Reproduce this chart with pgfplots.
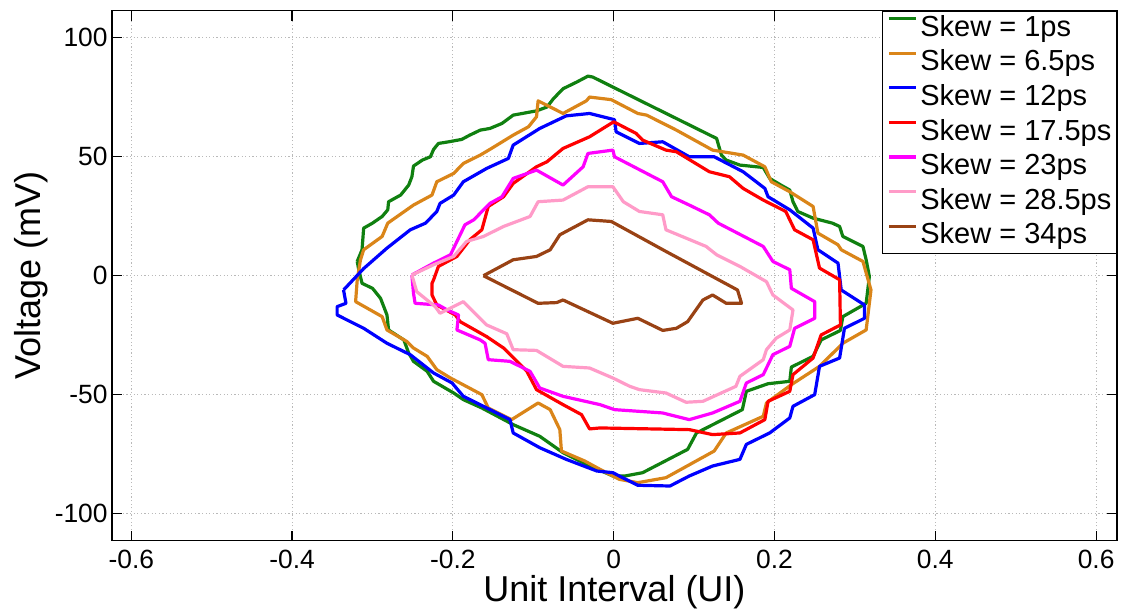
\documentclass[border=0pt]{standalone}
\usepackage{fontspec}
\setmainfont{Liberation Sans}
\usepackage{pgfplots}
\pgfplotsset{compat=1.18}

\definecolor{skewA}{RGB}{16,128,16}
\definecolor{skewB}{RGB}{218,133,25}
\definecolor{skewC}{RGB}{0,0,255}
\definecolor{skewD}{RGB}{255,0,0}
\definecolor{skewE}{RGB}{255,0,255}
\definecolor{skewF}{RGB}{255,155,200}
\definecolor{skewG}{RGB}{153,66,20}

\begin{document}
\begin{tikzpicture}
\begin{axis}[
  scale only axis,
  width=502.5pt, height=265pt,
  xmin=-0.624, xmax=0.626,
  ymin=-111.4, ymax=111.4,
  xtick={-0.6,-0.4,-0.2,0,0.2,0.4,0.6},
  xticklabels={-0.6,-0.4,-0.2,0,0.2,0.4,0.6},
  ytick={-100,-50,0,50,100},
  yticklabels={-100,-50,0,50,100},
  tick align=inside,
  major tick length=5pt,
  tick style={black, line width=0.6pt},
  axis line style={black, line width=0.6pt},
  grid=major,
  grid style={dash pattern=on 0.6pt off 1.2pt, color=gray!55, line width=0.5pt},
  tick label style={font=\fontsize{13.2}{15}\selectfont},
  xticklabel style={inner ysep=0.5pt, yshift=-4pt},
  yticklabel style={inner xsep=2pt},
  xlabel={Unit Interval (UI)},
  ylabel={Voltage (mV)},
  label style={font=\fontsize{18}{20}\selectfont},
  xlabel style={at={(rel axis cs:0.5,-0.0965)}, anchor=center, inner sep=0.5pt},
  ylabel style={at={(rel axis cs:-0.0806,0.5)}, anchor=center},
  every axis plot/.append style={line width=1.6pt, line join=round, no markers},
  legend cell align=left,
  legend image code/.code={\draw[#1] (0pt,5pt) -- (13.5pt,5pt);},
  legend style={at={(1,1)}, anchor=north east, draw=black, line width=0.6pt,
    fill=white, font=\fontsize{14.5}{16}\selectfont,
    inner xsep=2.5pt, inner ysep=1.5pt, row sep=3pt, column sep=1.5pt,
    nodes={inner sep=0pt, text height=11pt, text depth=3.3pt}},
]
\coordinate (bl) at (rel axis cs:0,0);
\coordinate (tr) at (rel axis cs:1,1);

% Skew = 1ps
\addplot[skewA] coordinates {
(-0.319,6.0) (-0.313,10.9) (-0.311,20.0) (-0.300,22.1) (-0.288,24.9) (-0.281,27.7)
(-0.280,31.1) (-0.265,33.9) (-0.255,38.1) (-0.251,41.6) (-0.249,46.1) (-0.238,48.6)
(-0.228,50.0) (-0.224,53.1) (-0.218,55.6) (-0.205,56.3) (-0.189,57.3) (-0.179,59.1)
(-0.166,61.2) (-0.154,61.9) (-0.139,64.0) (-0.125,67.5) (-0.096,69.3) (-0.083,70.9)
(-0.075,74.4) (-0.063,78.6) (-0.046,81.4) (-0.032,83.9) (-0.026,83.5) (-0.001,79.3)
(0.128,57.7) (0.134,50.7) (0.140,48.6) (0.157,46.5) (0.186,45.5) (0.194,40.9)
(0.208,38.1) (0.219,36.0) (0.223,31.1) (0.229,27.0) (0.248,24.2) (0.272,22.1)
(0.281,20.7) (0.285,16.5) (0.310,12.3) (0.314,6.7) (0.318,-0.3) (0.314,-11.6)
(0.285,-17.2) (0.282,-23.0) (0.258,-27.0) (0.248,-33.9) (0.221,-38.4) (0.219,-44.4)
(0.192,-45.4) (0.165,-48.6) (0.160,-56.3) (0.103,-66.1) (0.092,-73.0) (0.036,-82.8)
(0.014,-84.2) (-0.001,-84.2) (-0.034,-79.3) (-0.063,-74.4) (-0.092,-67.5) (-0.125,-62.6)
(-0.164,-55.6) (-0.187,-52.1) (-0.199,-49.3) (-0.224,-44.4) (-0.232,-40.2) (-0.249,-36.0)
(-0.255,-32.5) (-0.261,-27.0) (-0.280,-22.8) (-0.282,-16.5) (-0.290,-9.5) (-0.300,-5.3)
(-0.313,-3.2) (-0.317,2.4) (-0.319,6.0)
};
\addlegendentry{Skew = 1ps}

% Skew = 6.5ps
\addplot[skewB] coordinates {
(-0.315,6.6) (-0.311,10.9) (-0.288,16.5) (-0.281,22.1) (-0.249,29.7) (-0.226,33.9)
(-0.220,39.5) (-0.199,43.0) (-0.187,47.2) (-0.166,50.7) (-0.152,53.5) (-0.125,59.1)
(-0.106,62.6) (-0.096,66.8) (-0.094,73.5) (-0.063,68.2) (-0.034,73.5) (-0.030,75.1)
(-0.003,74.0) (0.030,68.2) (0.041,67.5) (0.078,61.2) (0.123,52.8) (0.161,50.7)
(0.188,45.8) (0.196,39.5) (0.219,35.3) (0.248,29.1) (0.254,17.9) (0.279,13.0)
(0.283,10.9) (0.310,6.0) (0.320,-6.0) (0.314,-22.8) (0.285,-28.4) (0.256,-38.1)
(0.221,-45.8) (0.190,-53.5) (0.186,-59.1) (0.140,-66.1) (0.125,-73.7) (0.065,-84.9)
(0.030,-87.0) (0.007,-85.6) (-0.017,-81.4) (-0.036,-77.9) (-0.065,-73.7) (-0.067,-64.7)
(-0.079,-56.3) (-0.094,-53.5) (-0.127,-60.5) (-0.156,-55.6) (-0.164,-50.0) (-0.203,-43.0)
(-0.220,-39.5) (-0.232,-33.9) (-0.249,-30.4) (-0.257,-27.7) (-0.282,-22.8) (-0.288,-17.2)
(-0.321,-10.9) (-0.319,-1.8) (-0.315,6.6)
};
\addlegendentry{Skew = 6.5ps}

% Skew = 12ps
\addplot[skewC] coordinates {
(-0.336,-6.0) (-0.311,3.0) (-0.282,11.6) (-0.253,19.3) (-0.234,22.1) (-0.220,27.0)
(-0.216,30.4) (-0.199,33.9) (-0.187,39.5) (-0.158,45.1) (-0.131,49.3) (-0.125,54.9)
(-0.092,61.9) (-0.059,67.2) (-0.030,68.2) (0.001,65.6) (0.003,60.5) (0.032,55.6)
(0.061,56.3) (0.094,50.0) (0.125,50.0) (0.161,43.7) (0.188,36.7) (0.192,33.2)
(0.219,27.7) (0.248,20.0) (0.254,10.9) (0.279,5.3) (0.283,-6.0) (0.312,-12.3)
(0.312,-17.9) (0.287,-22.1) (0.281,-34.6) (0.256,-38.1) (0.250,-50.0) (0.223,-54.9)
(0.219,-59.8) (0.194,-66.1) (0.165,-70.9) (0.157,-77.2) (0.123,-80.0) (0.094,-84.2)
(0.070,-88.4) (0.030,-88.1) (0.007,-84.2) (-0.001,-82.8) (-0.021,-82.1) (-0.059,-77.2)
(-0.092,-72.3) (-0.125,-66.1) (-0.129,-60.5) (-0.187,-50.7) (-0.201,-45.1) (-0.224,-40.9)
(-0.253,-33.2) (-0.282,-28.4) (-0.311,-22.1) (-0.344,-16.5) (-0.344,-13.0) (-0.333,-11.6)
(-0.336,-6.0)
};
\addlegendentry{Skew = 12ps}

% Skew = 17.5ps
\addplot[skewD] coordinates {
(-0.224,-1.7) (-0.218,3.9) (-0.195,8.1) (-0.179,15.1) (-0.164,19.3) (-0.156,29.1)
(-0.137,33.2) (-0.125,38.8) (-0.096,45.8) (-0.083,47.9) (-0.063,53.5) (-0.030,58.4)
(0.000,64.7) (0.028,59.8) (0.036,57.0) (0.065,52.8) (0.078,52.1) (0.119,43.7)
(0.144,41.6) (0.161,36.7) (0.186,31.8) (0.214,27.0) (0.225,19.3) (0.248,15.1)
(0.256,3.2) (0.281,-1.7) (0.282,-20.7) (0.258,-24.9) (0.248,-34.6) (0.223,-41.6)
(0.219,-48.6) (0.192,-52.8) (0.188,-60.5) (0.157,-66.1) (0.123,-66.8) (0.094,-64.7)
(-0.017,-64.0) (-0.030,-64.4) (-0.040,-58.4) (-0.063,-54.2) (-0.096,-47.9) (-0.108,-40.2)
(-0.137,-30.4) (-0.158,-25.6) (-0.191,-19.3) (-0.197,-16.5) (-0.220,-12.3) (-0.226,-8.1)
(-0.226,-3.2) (-0.224,-1.7)
};
\addlegendentry{Skew = 17.5ps}

% Skew = 23ps
\addplot[skewE] coordinates {
(-0.251,0.3) (-0.224,5.3) (-0.203,8.8) (-0.185,21.4) (-0.174,23.5) (-0.154,30.4)
(-0.139,33.2) (-0.125,40.9) (-0.096,44.4) (-0.063,38.1) (-0.038,45.8) (-0.032,51.4)
(-0.001,52.8) (0.001,50.0) (0.061,39.5) (0.072,33.2) (0.094,29.7) (0.119,25.6)
(0.130,22.1) (0.186,12.3) (0.198,6.0) (0.219,2.5) (0.221,-5.3) (0.250,-10.9)
(0.250,-17.9) (0.225,-22.1) (0.219,-29.7) (0.198,-33.2) (0.186,-41.6) (0.165,-45.1)
(0.157,-52.8) (0.123,-57.7) (0.094,-60.5) (0.061,-57.7) (0.001,-56.3) (-0.017,-54.2)
(-0.063,-50.7) (-0.092,-47.2) (-0.104,-40.2) (-0.129,-36.0) (-0.156,-35.3) (-0.160,-28.4)
(-0.166,-27.0) (-0.195,-22.8) (-0.193,-16.5) (-0.207,-14.4) (-0.218,-12.3) (-0.247,-11.6)
(-0.249,-7.4) (-0.251,0.3)
};
\addlegendentry{Skew = 23ps}

% Skew = 28.5ps
\addplot[skewF] coordinates {
(-0.251,0.3) (-0.224,4.6) (-0.199,8.1) (-0.183,14.4) (-0.162,16.5) (-0.137,20.7)
(-0.104,24.9) (-0.094,31.1) (-0.063,31.8) (-0.032,37.4) (-0.001,37.4) (0.012,31.1)
(0.032,27.0) (0.061,25.6) (0.065,19.3) (0.090,15.8) (0.115,12.3) (0.128,8.8)
(0.157,3.9) (0.190,-2.5) (0.198,-8.1) (0.223,-14.4) (0.219,-22.8) (0.202,-26.3)
(0.190,-31.1) (0.186,-35.3) (0.157,-42.3) (0.152,-46.5) (0.111,-52.8) (0.090,-53.2)
(0.065,-49.3) (0.032,-47.9) (0.020,-46.5) (-0.001,-43.0) (-0.030,-38.8) (-0.063,-38.1)
(-0.096,-31.4) (-0.125,-31.1) (-0.133,-24.4) (-0.158,-20.7) (-0.187,-10.9) (-0.216,-15.8)
(-0.222,-13.0) (-0.245,-6.7) (-0.251,0.3)
};
\addlegendentry{Skew = 28.5ps}

% Skew = 34ps
\addplot[skewG] coordinates {
(-0.162,0.0) (-0.125,6.7) (-0.096,8.1) (-0.079,10.9) (-0.067,17.2) (-0.032,23.5)
(-0.003,22.8) (0.065,10.2) (0.154,-6.0) (0.159,-11.6) (0.140,-11.6) (0.123,-8.1)
(0.111,-10.2) (0.092,-19.3) (0.078,-22.1) (0.061,-23.0) (0.030,-17.9) (-0.001,-20.0)
(-0.063,-10.2) (-0.071,-11.3) (-0.094,-11.6) (-0.162,0.0)
};
\addlegendentry{Skew = 34ps}
\end{axis}
\pgfresetboundingbox
\path ([xshift=-56pt,yshift=-36pt]bl) rectangle ([xshift=2pt,yshift=5.35pt]tr);
\end{tikzpicture}
\end{document}
